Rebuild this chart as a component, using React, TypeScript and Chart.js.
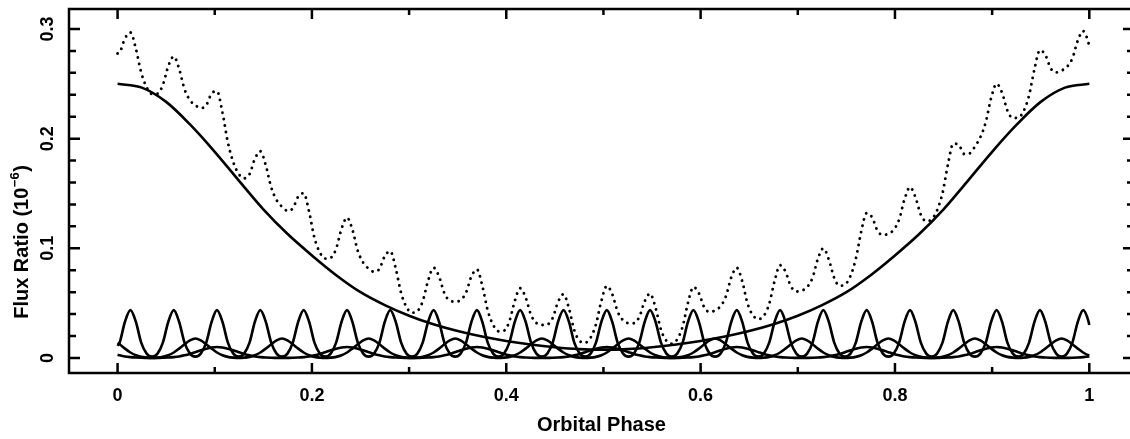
import React, { useEffect, useRef } from "react";
import { Chart, registerables } from "chart.js";

Chart.register(...registerables);

// Coarse phase grid for the smooth phase curve
const phaseCoarse = [
  0, 0.025, 0.05, 0.075, 0.1, 0.125, 0.15, 0.175, 0.2, 0.225, 0.25, 0.275, 0.3, 0.325, 0.35, 0.375, 0.4,
  0.425, 0.45, 0.475, 0.5, 0.525, 0.55, 0.575, 0.6, 0.625, 0.65, 0.675, 0.7, 0.725, 0.75, 0.775, 0.8,
  0.825, 0.85, 0.875, 0.9, 0.925, 0.95, 0.975, 1,
];
const mainCurve = [
  0.25, 0.2465, 0.2335, 0.2125, 0.188, 0.1615, 0.1355, 0.113, 0.0935, 0.0755, 0.06, 0.0482, 0.0385, 0.0307,
  0.0245, 0.0195, 0.0155, 0.0123, 0.0098, 0.0081, 0.0076, 0.0081, 0.0098, 0.0123, 0.0155, 0.0195, 0.0245,
  0.0307, 0.0385, 0.0482, 0.06, 0.0755, 0.0935, 0.113, 0.1355, 0.1615, 0.188, 0.2125, 0.2335, 0.2465, 0.25,
];

// Fine phase grid for the peaked curves and the dotted total
const phase = [
  0,
  0.0021, 0.0076, 0.0132, 0.0188, 0.0243, 0.0299, 0.0355, 0.0411,
  0.0466, 0.0522, 0.0578, 0.0633, 0.0689, 0.0745, 0.0801, 0.0856,
  0.0912, 0.0968, 0.1023, 0.1079, 0.1135, 0.1191, 0.1246, 0.1302,
  0.1358, 0.1413, 0.1469, 0.1525, 0.1581, 0.1636, 0.1692, 0.1748,
  0.1803, 0.1859, 0.1915, 0.1971, 0.2026, 0.2082, 0.2138, 0.2193,
  0.2249, 0.2305, 0.2361, 0.2416, 0.2472, 0.2528, 0.2583, 0.2639,
  0.2695, 0.275, 0.2806, 0.2862, 0.2918, 0.2973, 0.3029, 0.3085,
  0.314, 0.3196, 0.3252, 0.3308, 0.3363, 0.3419, 0.3475, 0.353,
  0.3586, 0.3642, 0.3698, 0.3753, 0.3809, 0.3865, 0.392, 0.3976,
  0.4032, 0.4088, 0.4143, 0.4199, 0.4255, 0.431, 0.4366, 0.4422,
  0.4478, 0.4533, 0.4589, 0.4645, 0.47, 0.4756, 0.4812, 0.4868,
  0.4923, 0.4979, 0.5035, 0.509, 0.5146, 0.5202, 0.5258, 0.5313,
  0.5369, 0.5425, 0.548, 0.5536, 0.5592, 0.5648, 0.5703, 0.5759,
  0.5815, 0.587, 0.5926, 0.5982, 0.6038, 0.6093, 0.6149, 0.6205,
  0.626, 0.6316, 0.6372, 0.6428, 0.6483, 0.6539, 0.6595, 0.665,
  0.6706, 0.6762, 0.6818, 0.6873, 0.6929, 0.6985, 0.704, 0.7096,
  0.7152, 0.7207, 0.7263, 0.7319, 0.7375, 0.743, 0.7486, 0.7542,
  0.7597, 0.7653, 0.7709, 0.7765, 0.782, 0.7876, 0.7932, 0.7987,
  0.8043, 0.8099, 0.8155, 0.821, 0.8266, 0.8322, 0.8377, 0.8433,
  0.8489, 0.8545, 0.86, 0.8656, 0.8712, 0.8767, 0.8823, 0.8879,
  0.8935, 0.899, 0.9046, 0.9102, 0.9157, 0.9213, 0.9269, 0.9325,
  0.938, 0.9436, 0.9492, 0.9547, 0.9603, 0.9659, 0.9715, 0.977,
  0.9826, 0.9882, 0.9937, 0.9993,
  1,
];

const narrowPeaks = [
  0.011,
  0.014, 0.033, 0.0436, 0.033, 0.014, 0.004, 0.0012, 0.004,
  0.014, 0.033, 0.0436, 0.033, 0.014, 0.004, 0.0012, 0.004,
  0.014, 0.033, 0.0436, 0.033, 0.014, 0.004, 0.0012, 0.004,
  0.014, 0.033, 0.0436, 0.033, 0.014, 0.004, 0.0012, 0.004,
  0.014, 0.033, 0.0436, 0.033, 0.014, 0.004, 0.0012, 0.004,
  0.014, 0.033, 0.0436, 0.033, 0.014, 0.004, 0.0012, 0.004,
  0.014, 0.033, 0.0436, 0.033, 0.014, 0.004, 0.0012, 0.004,
  0.014, 0.033, 0.0436, 0.033, 0.014, 0.004, 0.0012, 0.004,
  0.014, 0.033, 0.0436, 0.033, 0.014, 0.004, 0.0012, 0.004,
  0.014, 0.033, 0.0436, 0.033, 0.014, 0.004, 0.0012, 0.004,
  0.014, 0.033, 0.0436, 0.033, 0.014, 0.004, 0.0012, 0.004,
  0.014, 0.033, 0.0436, 0.033, 0.014, 0.004, 0.0012, 0.004,
  0.014, 0.033, 0.0436, 0.033, 0.014, 0.004, 0.0012, 0.004,
  0.014, 0.033, 0.0436, 0.033, 0.014, 0.004, 0.0012, 0.004,
  0.014, 0.033, 0.0436, 0.033, 0.014, 0.004, 0.0012, 0.004,
  0.014, 0.033, 0.0436, 0.033, 0.014, 0.004, 0.0012, 0.004,
  0.014, 0.033, 0.0436, 0.033, 0.014, 0.004, 0.0012, 0.004,
  0.014, 0.033, 0.0436, 0.033, 0.014, 0.004, 0.0012, 0.004,
  0.014, 0.033, 0.0436, 0.033, 0.014, 0.004, 0.0012, 0.004,
  0.014, 0.033, 0.0436, 0.033, 0.014, 0.004, 0.0012, 0.004,
  0.014, 0.033, 0.0436, 0.033, 0.014, 0.004, 0.0012, 0.004,
  0.014, 0.033, 0.0436, 0.033, 0.014, 0.004, 0.0012, 0.004,
  0.014, 0.033, 0.0436, 0.033,
  0.03,
];

const mediumPeaks = [
  0.0138,
  0.0125, 0.0085, 0.005, 0.0025, 0.001, 0.0003, 0, 0.0003,
  0.001, 0.0025, 0.005, 0.0085, 0.0125, 0.016, 0.0177, 0.016,
  0.0125, 0.0085, 0.005, 0.0025, 0.001, 0.0003, 0, 0.0003,
  0.001, 0.0025, 0.005, 0.0085, 0.0125, 0.016, 0.0177, 0.016,
  0.0125, 0.0085, 0.005, 0.0025, 0.001, 0.0003, 0, 0.0003,
  0.001, 0.0025, 0.005, 0.0085, 0.0125, 0.016, 0.0177, 0.016,
  0.0125, 0.0085, 0.005, 0.0025, 0.001, 0.0003, 0, 0.0003,
  0.001, 0.0025, 0.005, 0.0085, 0.0125, 0.016, 0.0177, 0.016,
  0.0125, 0.0085, 0.005, 0.0025, 0.001, 0.0003, 0, 0.0003,
  0.001, 0.0025, 0.005, 0.0085, 0.0125, 0.016, 0.0177, 0.016,
  0.0125, 0.0085, 0.005, 0.0025, 0.001, 0.0003, 0, 0.0003,
  0.001, 0.0025, 0.005, 0.0085, 0.0125, 0.016, 0.0177, 0.016,
  0.0125, 0.0085, 0.005, 0.0025, 0.001, 0.0003, 0, 0.0003,
  0.001, 0.0025, 0.005, 0.0085, 0.0125, 0.016, 0.0177, 0.016,
  0.0125, 0.0085, 0.005, 0.0025, 0.001, 0.0003, 0, 0.0003,
  0.001, 0.0025, 0.005, 0.0085, 0.0125, 0.016, 0.0177, 0.016,
  0.0125, 0.0085, 0.005, 0.0025, 0.001, 0.0003, 0, 0.0003,
  0.001, 0.0025, 0.005, 0.0085, 0.0125, 0.016, 0.0177, 0.016,
  0.0125, 0.0085, 0.005, 0.0025, 0.001, 0.0003, 0, 0.0003,
  0.001, 0.0025, 0.005, 0.0085, 0.0125, 0.016, 0.0177, 0.016,
  0.0125, 0.0085, 0.005, 0.0025, 0.001, 0.0003, 0, 0.0003,
  0.001, 0.0025, 0.005, 0.0085, 0.0125, 0.016, 0.0177, 0.016,
  0.0125, 0.0085, 0.005, 0.0025,
  0.0024,
];

const broadPeaks = [
  0.0029,
  0.0024, 0.0014, 0.0008, 0.0004, 0.0002, 0.0001, 0, 0.0001,
  0.0002, 0.0004, 0.0008, 0.0014, 0.0024, 0.0037, 0.0053, 0.007,
  0.0085, 0.0096, 0.01, 0.0096, 0.0085, 0.007, 0.0053, 0.0037,
  0.0024, 0.0014, 0.0008, 0.0004, 0.0002, 0.0001, 0, 0.0001,
  0.0002, 0.0004, 0.0008, 0.0014, 0.0024, 0.0037, 0.0053, 0.007,
  0.0085, 0.0096, 0.01, 0.0096, 0.0085, 0.007, 0.0053, 0.0037,
  0.0024, 0.0014, 0.0008, 0.0004, 0.0002, 0.0001, 0, 0.0001,
  0.0002, 0.0004, 0.0008, 0.0014, 0.0024, 0.0037, 0.0053, 0.007,
  0.0085, 0.0096, 0.01, 0.0096, 0.0085, 0.007, 0.0053, 0.0037,
  0.0024, 0.0014, 0.0008, 0.0004, 0.0002, 0.0001, 0, 0.0001,
  0.0002, 0.0004, 0.0008, 0.0014, 0.0024, 0.0037, 0.0053, 0.007,
  0.0085, 0.0096, 0.01, 0.0096, 0.0085, 0.007, 0.0053, 0.0037,
  0.0024, 0.0014, 0.0008, 0.0004, 0.0002, 0.0001, 0, 0.0001,
  0.0002, 0.0004, 0.0008, 0.0014, 0.0024, 0.0037, 0.0053, 0.007,
  0.0085, 0.0096, 0.01, 0.0096, 0.0085, 0.007, 0.0053, 0.0037,
  0.0024, 0.0014, 0.0008, 0.0004, 0.0002, 0.0001, 0, 0.0001,
  0.0002, 0.0004, 0.0008, 0.0014, 0.0024, 0.0037, 0.0053, 0.007,
  0.0085, 0.0096, 0.01, 0.0096, 0.0085, 0.007, 0.0053, 0.0037,
  0.0024, 0.0014, 0.0008, 0.0004, 0.0002, 0.0001, 0, 0.0001,
  0.0002, 0.0004, 0.0008, 0.0014, 0.0024, 0.0037, 0.0053, 0.007,
  0.0085, 0.0096, 0.01, 0.0096, 0.0085, 0.007, 0.0053, 0.0037,
  0.0024, 0.0014, 0.0008, 0.0004, 0.0002, 0.0001, 0, 0.0001,
  0.0002, 0.0004, 0.0008, 0.0014,
  0.0015,
];

const totalFlux = [
  0.2777,
  0.2785, 0.2914, 0.2968, 0.2821, 0.2603, 0.2468, 0.2407, 0.241,
  0.249, 0.2661, 0.2749, 0.2637, 0.245, 0.2351, 0.2304, 0.2278,
  0.2304, 0.2412, 0.2432, 0.2239, 0.1965, 0.1785, 0.1679, 0.1638,
  0.1676, 0.1816, 0.1885, 0.1757, 0.1556, 0.1441, 0.138, 0.1343,
  0.1364, 0.1472, 0.1502, 0.1333, 0.1095, 0.0961, 0.0906, 0.0914,
  0.0996, 0.1178, 0.128, 0.1171, 0.0977, 0.0868, 0.0815, 0.0786,
  0.0813, 0.0929, 0.0974, 0.0819, 0.0592, 0.0464, 0.0413, 0.0427,
  0.0517, 0.0706, 0.0823, 0.0744, 0.059, 0.0523, 0.0514, 0.0528,
  0.0596, 0.0745, 0.0808, 0.066, 0.0434, 0.0302, 0.0244, 0.0249,
  0.0334, 0.052, 0.0636, 0.0552, 0.0391, 0.0319, 0.03, 0.0305,
  0.0365, 0.0511, 0.0582, 0.0452, 0.0253, 0.0155, 0.0139, 0.0186,
  0.0307, 0.0521, 0.0657, 0.0583, 0.0423, 0.0344, 0.0318, 0.0317,
  0.0374, 0.0518, 0.0587, 0.0458, 0.0258, 0.0157, 0.0131, 0.017,
  0.0287, 0.0503, 0.0647, 0.0591, 0.0461, 0.0419, 0.0434, 0.0472,
  0.0562, 0.0736, 0.0823, 0.07, 0.0496, 0.0388, 0.0355, 0.0384,
  0.0493, 0.0703, 0.0846, 0.0788, 0.0654, 0.0606, 0.0614, 0.0646,
  0.0732, 0.0904, 0.1, 0.0899, 0.0729, 0.0659, 0.0669, 0.0748,
  0.0903, 0.1153, 0.1321, 0.1282, 0.1161, 0.1121, 0.1133, 0.1168,
  0.1263, 0.1448, 0.1558, 0.1467, 0.1306, 0.1247, 0.1264, 0.1345,
  0.1502, 0.1763, 0.1954, 0.1945, 0.186, 0.1865, 0.1928, 0.2014,
  0.2152, 0.2371, 0.25, 0.2419, 0.2256, 0.2188, 0.2191, 0.2253,
  0.2393, 0.2635, 0.2807, 0.2764, 0.2641, 0.2604, 0.2621, 0.2655,
  0.2732, 0.2895, 0.2981, 0.2868,
  0.2839,
];

const xTickStep = 0.2;
const yTickStep = 0.1;
const xTitle = "Orbital Phase";
const yTitleMain = "Flux Ratio (10";
const yTitleExp = "\u22126";
const yTitleTail = ")";

const FONT = "'Liberation Sans', Arial, sans-serif";

const fmt = (v: any) => String(Number(Number(v).toFixed(3)));

const framePlugin = {
  id: "pgframe",
  afterDatasetsDraw(chart: any) {
    const { ctx, chartArea: a, scales } = chart;
    const xs = scales.x;
    const ys = scales.y;
    ctx.save();
    ctx.strokeStyle = "#000";
    ctx.lineWidth = 2.5;
    ctx.lineCap = "butt";
    ctx.strokeRect(a.left, a.top, a.right - a.left, a.bottom - a.top);
    ctx.beginPath();
    for (let i = 0; i <= 10; i++) {
      const px = xs.getPixelForValue(i / 10);
      const len = i % 2 === 0 ? 10 : 6;
      ctx.moveTo(px, a.bottom);
      ctx.lineTo(px, a.bottom - len);
      ctx.moveTo(px, a.top);
      ctx.lineTo(px, a.top + len);
    }
    for (let i = 0; i <= 15; i++) {
      const py = ys.getPixelForValue(i * 0.02);
      const len = i % 5 === 0 ? 11 : 7;
      ctx.moveTo(a.left, py);
      ctx.lineTo(a.left + len, py);
      ctx.moveTo(a.right, py);
      ctx.lineTo(a.right - len, py);
    }
    ctx.stroke();

    // y-axis title with a real superscript exponent
    ctx.fillStyle = "#000";
    ctx.textBaseline = "middle";
    ctx.textAlign = "left";
    const big = `bold 20px ${FONT}`;
    const small = `bold 13px ${FONT}`;
    ctx.font = big;
    const w1 = ctx.measureText(yTitleMain).width;
    const w3 = ctx.measureText(yTitleTail).width;
    ctx.font = small;
    const w2 = ctx.measureText(yTitleExp).width + 1;
    const total = w1 + w2 + w3;
    ctx.translate(22, 242);
    ctx.rotate(-Math.PI / 2);
    const x0 = -total / 2;
    ctx.font = big;
    ctx.fillText(yTitleMain, x0, 0);
    ctx.font = small;
    ctx.fillText(yTitleExp, x0 + w1 + 0.5, -7);
    ctx.font = big;
    ctx.fillText(yTitleTail, x0 + w1 + w2, 0);
    ctx.restore();
  },
};

export default function App() {
  const ref = useRef<HTMLCanvasElement | null>(null);

  useEffect(() => {
    if (!ref.current) return;
    const solid = (data: number[], xs: number[]) => ({
      data: xs.map((x, i) => ({ x, y: data[i] })),
      borderColor: "#000",
      borderWidth: 2.6,
      pointRadius: 0,
      fill: false,
      cubicInterpolationMode: "monotone" as const,
    });
    const chart = new Chart(ref.current, {
      type: "line",
      data: {
        datasets: [
          {
            ...solid(totalFlux, phase),
            borderWidth: 2.9,
            borderDash: [0.01, 6.5],
            borderCapStyle: "round",
          },
          solid(mainCurve, phaseCoarse),
          solid(narrowPeaks, phase),
          solid(mediumPeaks, phase),
          solid(broadPeaks, phase),
        ],
      },
      options: {
        responsive: false,
        animation: false,
        layout: { padding: { top: 9, right: 16, left: 0, bottom: 0 } },
        plugins: { legend: { display: false }, tooltip: { enabled: false } },
        elements: { point: { radius: 0 } },
        scales: {
          x: {
            type: "linear",
            min: -0.05,
            max: 1.046,
            grid: { display: false, drawTicks: false },
            border: { display: false },
            ticks: {
              stepSize: xTickStep,
              includeBounds: false,
              padding: 12,
              color: "#000",
              maxRotation: 0,
              autoSkip: false,
              callback: fmt,
              font: { family: FONT, size: 18, weight: "bold" },
            },
            title: {
              display: true,
              text: xTitle,
              color: "#000",
              font: { family: FONT, size: 20, weight: "bold" },
              padding: { top: 0, bottom: 2 },
            },
            afterFit(s: any) {
              s.height = 66;
              s.paddingLeft = 0;
              s.paddingRight = 0;
            },
          },
          y: {
            type: "linear",
            min: -0.0137,
            max: 0.3182,
            grid: { display: false, drawTicks: false },
            border: { display: false },
            ticks: {
              stepSize: yTickStep,
              includeBounds: false,
              minRotation: 90,
              maxRotation: 90,
              crossAlign: "center",
              padding: 8,
              color: "#000",
              callback: fmt,
              font: { family: FONT, size: 18, weight: "bold" },
            },
            title: { display: false },
            afterFit(s: any) {
              s.width = 69;
              s.paddingTop = 0;
              s.paddingBottom = 0;
            },
          },
        },
      },
      plugins: [framePlugin],
    } as any);
    return () => chart.destroy();
  }, []);

  return (
    <canvas
      ref={ref}
      width={1150}
      height={439}
      style={{ position: "fixed", left: 0, top: 0, display: "block" }}
    />
  );
}
